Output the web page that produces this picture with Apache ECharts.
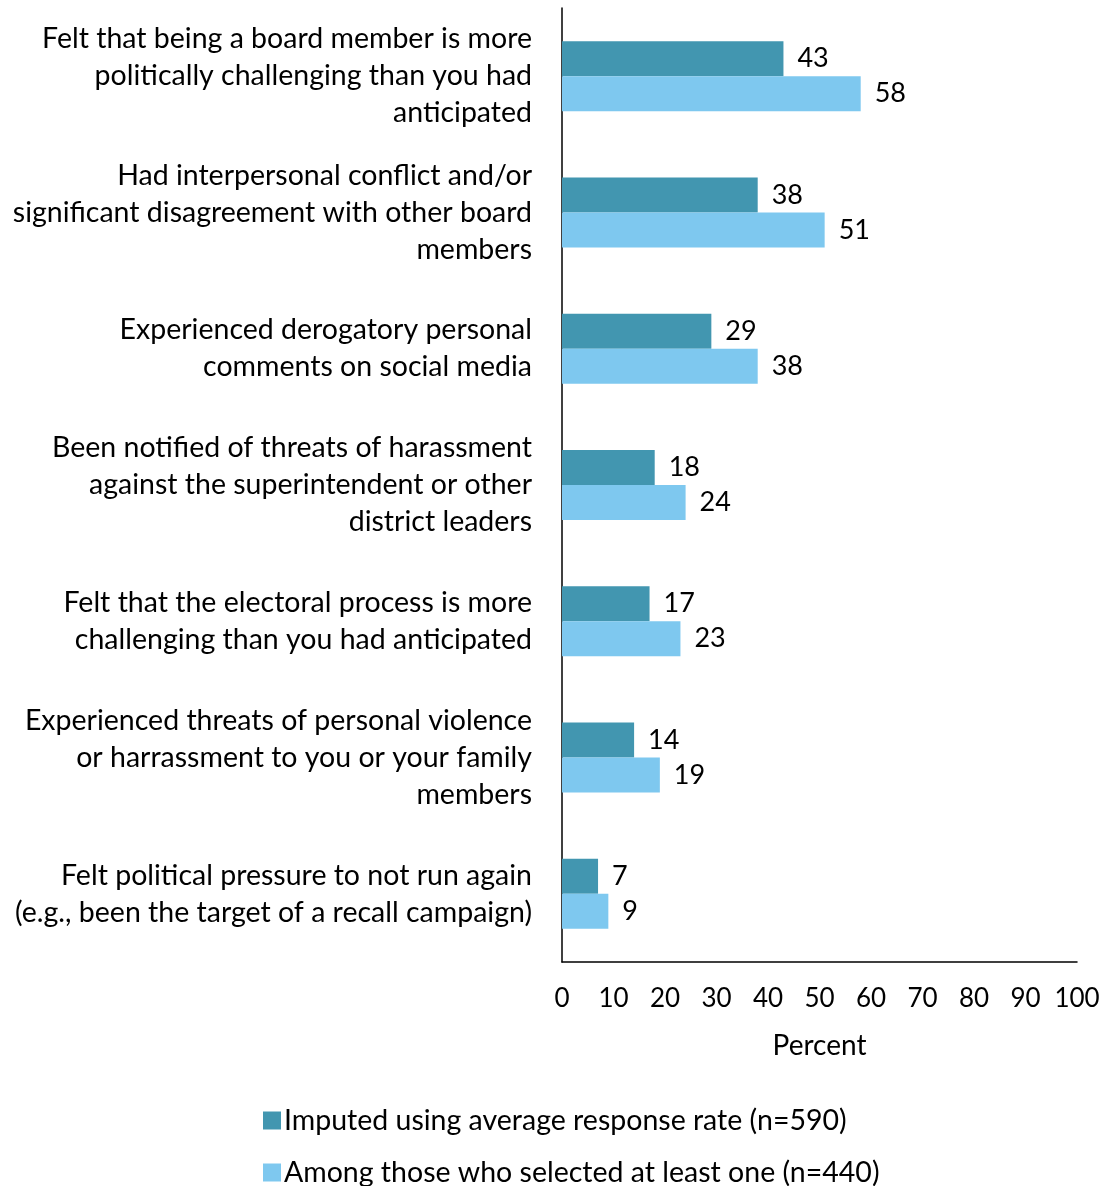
<!DOCTYPE html>
<html>
<head>
<meta charset="utf-8">
<script src="https://cdn.jsdelivr.net/npm/echarts@6/dist/echarts.min.js"></script>
<style>
  html, body { margin: 0; padding: 0; background: #fff; }
  #chart { width: 1105px; height: 1186px; }
</style>
</head>
<body>
<div id="chart"></div>
<script>
// categories, top to bottom
const categories = [
  "Felt that being a board member is more\npolitically challenging than you had\nanticipated",
  "Had interpersonal conflict and/or\nsignificant disagreement with other board\nmembers",
  "Experienced derogatory personal\ncomments on social media",
  "Been notified of threats of harassment\nagainst the superintendent or other\ndistrict leaders",
  "Felt that the electoral process is more\nchallenging than you had anticipated",
  "Experienced threats of personal violence\nor harrassment to you or your family\nmembers",
  "Felt political pressure to not run again\n(e.g., been the target of a recall campaign)"
];
const imputed = [43, 38, 29, 18, 17, 14, 7];
const selected = [58, 51, 38, 24, 23, 19, 9];
const seriesNames = [
  "Imputed using average response rate (n=590)",
  "Among those who selected at least one (n=440)"
];

const font = "Lato, 'Open Sans', sans-serif";
const chart = echarts.init(document.getElementById("chart"));

const labelStyle = {
  show: true,
  position: "right",
  distance: 14,
  color: "#000",
  fontSize: 27,
  fontFamily: font
};

// one legend per row, stacked
const legendBase = {
  left: 258,
  itemWidth: 18,
  itemHeight: 18,
  icon: "rect",
  itemGap: 6,
  textStyle: { fontSize: 28.5, color: "#000", fontFamily: font, padding: [0, 0, 0, -2] }
};

chart.setOption({
  animation: false,
  textStyle: { fontFamily: font },
  grid: { left: 562, right: 28, top: 8, bottom: 224, containLabel: false },
  legend: [
    Object.assign({}, legendBase, { top: 1101, data: [seriesNames[0]] }),
    Object.assign({}, legendBase, { top: 1153, data: [seriesNames[1]] })
  ],
  xAxis: {
    type: "value",
    min: 0,
    max: 100,
    interval: 10,
    name: "Percent",
    nameLocation: "middle",
    nameGap: 70,
    nameTextStyle: { fontSize: 28, color: "#000", fontFamily: font },
    axisLine: { show: true, lineStyle: { color: "#000", width: 1.5 } },
    axisTick: { show: false },
    splitLine: { show: false },
    axisLabel: { fontSize: 26, color: "#000", margin: 24, fontFamily: font }
  },
  yAxis: {
    type: "category",
    inverse: true,
    data: categories,
    axisLine: { show: true, lineStyle: { color: "#000", width: 1.5 } },
    axisTick: { show: false },
    axisLabel: {
      fontSize: 28.5,
      lineHeight: 37,
      color: "#000",
      margin: 30,
      align: "right",
      fontFamily: font
    }
  },
  series: [
    {
      name: seriesNames[0],
      type: "bar",
      data: imputed,
      barWidth: 35,
      barGap: "0%",
      itemStyle: { color: "#4296B0" },
      label: labelStyle
    },
    {
      name: seriesNames[1],
      type: "bar",
      data: selected,
      barWidth: 35,
      itemStyle: { color: "#7EC8EF" },
      label: labelStyle
    }
  ]
});
</script>
</body>
</html>
